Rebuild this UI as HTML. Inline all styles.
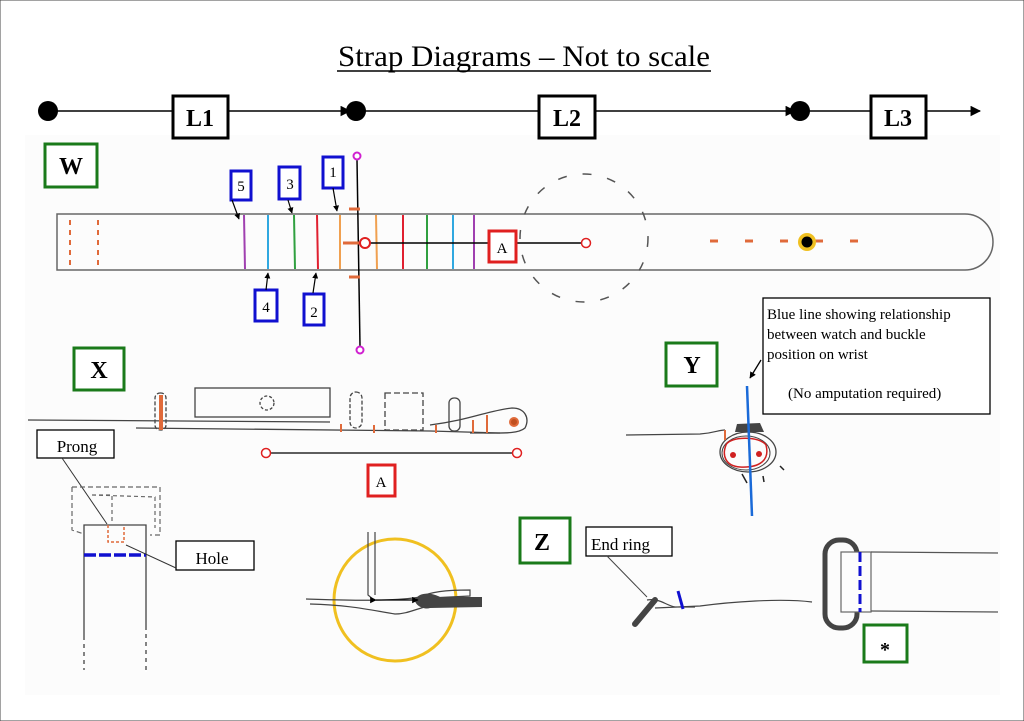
<!DOCTYPE html>
<html><head><meta charset="utf-8"><style>
html,body{margin:0;padding:0;background:#fff}
svg{display:block}
text{font-family:"Liberation Serif",serif}
</style></head><body>
<svg width="1024" height="721" viewBox="0 0 1024 721" xmlns="http://www.w3.org/2000/svg">
<defs>
<marker id="ah" viewBox="0 0 10 10" refX="9" refY="5" markerWidth="7" markerHeight="7" orient="auto"><path d="M0,0 L10,5 L0,10 z" fill="#000"/></marker>
<marker id="ah2" viewBox="0 0 10 10" refX="9" refY="5" markerWidth="5" markerHeight="5" orient="auto"><path d="M0,0 L10,5 L0,10 z" fill="#000"/></marker>
</defs>
<rect x="0" y="0" width="1024" height="721" fill="#fff" stroke="#444" stroke-width="1"/>
<rect x="25" y="135" width="975" height="560" fill="#fcfcfc"/>
<!-- Title -->
<text x="524" y="66" font-size="30" text-anchor="middle" textLength="372" lengthAdjust="spacingAndGlyphs">Strap Diagrams – Not to scale</text>
<line x1="337" y1="71" x2="711" y2="71" stroke="#000" stroke-width="1.5"/>
<!-- timeline -->
<line x1="48" y1="111" x2="350" y2="111" stroke="#000" stroke-width="1.5" marker-end="url(#ah)"/>
<line x1="355" y1="111" x2="795" y2="111" stroke="#000" stroke-width="1.5" marker-end="url(#ah)"/>
<line x1="800" y1="111" x2="980" y2="111" stroke="#000" stroke-width="1.5" marker-end="url(#ah)"/>
<circle cx="48" cy="111" r="10" fill="#000"/>
<circle cx="356" cy="111" r="10" fill="#000"/>
<circle cx="800" cy="111" r="10" fill="#000"/>
<g font-size="24" font-weight="bold" text-anchor="middle">
<rect x="173" y="96" width="55" height="42" fill="#fff" stroke="#000" stroke-width="3"/><text x="200" y="126">L1</text>
<rect x="539" y="96" width="56" height="42" fill="#fff" stroke="#000" stroke-width="3"/><text x="567" y="126">L2</text>
<rect x="871" y="96" width="55" height="42" fill="#fff" stroke="#000" stroke-width="3"/><text x="898" y="126">L3</text>
</g>
<!-- green labels -->
<g font-size="24" font-weight="bold" text-anchor="middle" fill="#000">
<rect x="45" y="144" width="52" height="43" fill="#fff" stroke="#1a7a1a" stroke-width="3"/><text x="71" y="174">W</text>
<rect x="74" y="348" width="50" height="42" fill="#fff" stroke="#1a7a1a" stroke-width="3"/><text x="99" y="378">X</text>
<rect x="666" y="343" width="51" height="43" fill="#fff" stroke="#1a7a1a" stroke-width="3"/><text x="692" y="373">Y</text>
<rect x="520" y="518" width="50" height="45" fill="#fff" stroke="#1a7a1a" stroke-width="3"/><text x="542" y="550">Z</text>
<rect x="864" y="625" width="43" height="37" fill="#fff" stroke="#1a7a1a" stroke-width="3"/><text x="885" y="656" font-size="20">*</text>
</g>
<!-- W strap -->
<path d="M57,214 L965,214 A28,28 0 0 1 965,270 L57,270 Z" fill="none" stroke="#666" stroke-width="1.5"/>
<line x1="70" y1="220" x2="70" y2="268" stroke="#e06a3a" stroke-width="2" stroke-dasharray="5,5"/>
<line x1="98" y1="220" x2="98" y2="268" stroke="#e06a3a" stroke-width="2" stroke-dasharray="5,5"/>
<g stroke-width="2">
<line x1="244" y1="215" x2="245" y2="269" stroke="#a040b0"/>
<line x1="268" y1="215" x2="268" y2="269" stroke="#30a8e0"/>
<line x1="294" y1="215" x2="295" y2="269" stroke="#30a040"/>
<line x1="317" y1="215" x2="318" y2="269" stroke="#e02030"/>
<line x1="340" y1="215" x2="340" y2="269" stroke="#f0a050"/>
<line x1="376" y1="215" x2="377" y2="269" stroke="#f0a050"/>
<line x1="403" y1="215" x2="403" y2="269" stroke="#e02030"/>
<line x1="427" y1="215" x2="427" y2="269" stroke="#30a040"/>
<line x1="453" y1="215" x2="453" y2="269" stroke="#30a8e0"/>
<line x1="474" y1="215" x2="474" y2="269" stroke="#a040b0"/>
</g>
<line x1="357" y1="160" x2="360" y2="346" stroke="#000" stroke-width="1.5"/>
<circle cx="357" cy="156" r="3.5" fill="#fff" stroke="#d020d0" stroke-width="2"/>
<circle cx="360" cy="350" r="3.5" fill="#fff" stroke="#d020d0" stroke-width="2"/>
<line x1="349" y1="209" x2="360" y2="209" stroke="#e06a3a" stroke-width="3"/>
<line x1="349" y1="277" x2="360" y2="277" stroke="#e06a3a" stroke-width="3"/>
<line x1="343" y1="243" x2="360" y2="243" stroke="#e06a3a" stroke-width="3"/>
<line x1="370" y1="243" x2="585" y2="243" stroke="#000" stroke-width="1.5"/>
<circle cx="365" cy="243" r="5" fill="#fff" stroke="#e02020" stroke-width="2"/>
<circle cx="586" cy="243" r="4.5" fill="#fff" stroke="#e02020" stroke-width="1.5"/>
<rect x="489" y="231" width="27" height="31" fill="#fff" stroke="#e02020" stroke-width="3"/>
<text x="502" y="253" font-size="15" text-anchor="middle">A</text>
<circle cx="584" cy="238" r="64" fill="none" stroke="#555" stroke-width="1.5" stroke-dasharray="9,16"/>
<line x1="710" y1="241" x2="885" y2="241" stroke="#e06a3a" stroke-width="3" stroke-dasharray="8,27"/>
<circle cx="807" cy="242" r="9" fill="#f0c020"/>
<circle cx="807" cy="242" r="5.5" fill="#000"/>
<!-- blue number boxes -->
<g font-size="15" text-anchor="middle" stroke-width="3">
<rect x="231" y="171" width="20" height="29" fill="#fff" stroke="#1010d0"/><text x="241" y="191">5</text>
<rect x="279" y="167" width="21" height="32" fill="#fff" stroke="#1010d0"/><text x="290" y="189">3</text>
<rect x="323" y="157" width="20" height="31" fill="#fff" stroke="#1010d0"/><text x="333" y="177">1</text>
<rect x="255" y="290" width="22" height="31" fill="#fff" stroke="#1010d0"/><text x="266" y="312">4</text>
<rect x="304" y="294" width="20" height="31" fill="#fff" stroke="#1010d0"/><text x="314" y="317">2</text>
</g>
<g stroke="#000" stroke-width="1.2">
<line x1="232" y1="200" x2="239" y2="219" marker-end="url(#ah2)"/>
<line x1="288" y1="200" x2="292" y2="213" marker-end="url(#ah2)"/>
<line x1="333" y1="188" x2="337" y2="211" marker-end="url(#ah2)"/>
<line x1="266" y1="290" x2="268" y2="273" marker-end="url(#ah2)"/>
<line x1="313" y1="293" x2="316" y2="273" marker-end="url(#ah2)"/>
</g>
<!-- X strap -->
<g fill="none" stroke="#444" stroke-width="1.3">
<line x1="28" y1="420" x2="330" y2="422"/>
<path d="M136,428 L430,431 L500,433"/>
<path d="M430,425 C470,420 490,410 512,408 C525,408 530,418 525,428 C518,434 505,433 470,433"/>
<rect x="195" y="388" width="135" height="29"/>
<rect x="350" y="392" width="12" height="36" rx="6" stroke-dasharray="4,2"/>
<rect x="385" y="393" width="38" height="37" stroke-dasharray="6,3"/>
<rect x="449" y="398" width="11" height="33" rx="5"/>
<rect x="155" y="393" width="11" height="37" rx="5" stroke-dasharray="4,2"/>
<circle cx="267" cy="403" r="7" stroke-dasharray="3,2"/>
</g>
<line x1="161" y1="395" x2="161" y2="430" stroke="#e06a3a" stroke-width="4"/>
<g stroke="#e06a3a" stroke-width="2">
<line x1="341" y1="424" x2="341" y2="432"/><line x1="374" y1="425" x2="374" y2="433"/>
<line x1="436" y1="425" x2="436" y2="433"/><line x1="473" y1="420" x2="473" y2="433"/><line x1="487" y1="415" x2="487" y2="433"/>
</g>
<circle cx="514" cy="422" r="4" fill="#c05020" stroke="#e06a3a" stroke-width="2"/>
<line x1="270" y1="453" x2="513" y2="453" stroke="#000" stroke-width="1.2"/>
<circle cx="266" cy="453" r="4.5" fill="#fff" stroke="#e02020" stroke-width="1.5"/>
<circle cx="517" cy="453" r="4.5" fill="#fff" stroke="#e02020" stroke-width="1.5"/>
<rect x="368" y="465" width="27" height="31" fill="#fff" stroke="#e02020" stroke-width="3"/>
<text x="381" y="487" font-size="15" text-anchor="middle">A</text>
<!-- buckle/prong -->
<rect x="37" y="430" width="77" height="28" fill="#fff" stroke="#000" stroke-width="1.3"/>
<text x="77" y="452" font-size="17" text-anchor="middle">Prong</text>
<line x1="62" y1="458" x2="107" y2="524" stroke="#333" stroke-width="1"/>
<path d="M72,487 L160,487 L160,535 L150,535 M72,487 L72,530 L84,534" fill="none" stroke="#666" stroke-width="1.2" stroke-dasharray="5,3"/>
<path d="M92,495 L155,497 L155,528 M92,495 L112,495 L112,522" fill="none" stroke="#666" stroke-width="1.2" stroke-dasharray="4,3"/>
<path d="M84,670 L84,525 L146,525 L146,670" fill="none" stroke="#444" stroke-width="1.3"/>
<line x1="84" y1="640" x2="84" y2="672" stroke="#fff" stroke-width="2" stroke-dasharray="4,4"/>
<line x1="146" y1="630" x2="146" y2="672" stroke="#fff" stroke-width="2" stroke-dasharray="4,4"/>
<path d="M108,525 L108,542 L124,542 L124,525" fill="none" stroke="#e06a3a" stroke-width="1.5" stroke-dasharray="3,2"/>
<line x1="84" y1="555" x2="146" y2="555" stroke="#1010d0" stroke-width="3.5" stroke-dasharray="12,3"/>
<rect x="176" y="541" width="78" height="29" fill="#fff" stroke="#000" stroke-width="1.3"/>
<text x="212" y="564" font-size="17" text-anchor="middle">Hole</text>
<line x1="176" y1="568" x2="126" y2="545" stroke="#333" stroke-width="1"/>
<!-- yellow circle -->
<circle cx="395" cy="600" r="61" fill="none" stroke="#f0c020" stroke-width="3"/>
<path d="M368,532 L368,595 L374,600 M375,532 L375,595" fill="none" stroke="#444" stroke-width="1.2"/>
<path d="M306,599 C340,600 390,602 420,597 C430,592 445,590 470,590 L470,596 L430,598" fill="none" stroke="#444" stroke-width="1.2"/>
<path d="M310,604 C350,605 370,610 395,614 C410,614 420,606 440,604" fill="none" stroke="#444" stroke-width="1.2"/>
<path d="M415,600 C420,590 435,594 440,597 L482,597 L482,607 L430,608 C425,610 415,606 415,600 Z" fill="#444"/>
<line x1="376" y1="600" x2="418" y2="600" stroke="#000" stroke-width="1.3" marker-end="url(#ah2)" marker-start="url(#ah2)"/>
<!-- Y -->
<rect x="763" y="298" width="227" height="116" fill="#fff" stroke="#000" stroke-width="1.3"/>
<g font-size="15">
<text x="767" y="319">Blue line showing relationship</text>
<text x="767" y="339">between watch and buckle</text>
<text x="767" y="359">position on wrist</text>
<text x="788" y="398">(No amputation required)</text>
</g>
<line x1="761" y1="360" x2="750" y2="378" stroke="#000" stroke-width="1.3" marker-end="url(#ah2)"/>
<path d="M626,435 L700,434 C715,433 718,430 725,430" fill="none" stroke="#444" stroke-width="1.2"/>
<path d="M735,432 L737,424 L760,423 L764,432 Z" fill="#444"/>
<ellipse cx="748" cy="452" rx="28" ry="20" fill="none" stroke="#444" stroke-width="1.3"/>
<ellipse cx="746" cy="453" rx="24" ry="17" fill="none" stroke="#444" stroke-width="1"/>
<path d="M726,445 C730,436 760,436 766,445 C770,460 760,468 740,467 C725,466 722,455 726,445 Z" fill="none" stroke="#d02020" stroke-width="1.5"/>
<circle cx="733" cy="455" r="3" fill="#d02020"/><circle cx="759" cy="454" r="3" fill="#d02020"/>
<line x1="747" y1="386" x2="752" y2="516" stroke="#1a6ad8" stroke-width="2.5"/>
<line x1="725" y1="430" x2="725" y2="440" stroke="#e06a3a" stroke-width="2"/>
<g stroke="#222" stroke-width="1.5"><line x1="742" y1="474" x2="747" y2="483"/><line x1="763" y1="476" x2="764" y2="482"/><line x1="780" y1="466" x2="784" y2="470"/></g>
<!-- Z -->
<rect x="586" y="527" width="86" height="29" fill="#fff" stroke="#000" stroke-width="1.3"/>
<text x="591" y="550" font-size="17">End ring</text>
<line x1="607" y1="556" x2="647" y2="597" stroke="#444" stroke-width="1"/>
<path d="M647,600 C660,598 665,605 675,607 L695,607 M655,608 L700,606 C730,602 780,598 812,602" fill="none" stroke="#444" stroke-width="1.2"/>
<line x1="655" y1="600" x2="635" y2="624" stroke="#444" stroke-width="6" stroke-linecap="round"/>
<line x1="678" y1="591" x2="683" y2="609" stroke="#1010d0" stroke-width="3"/>
<rect x="825" y="540" width="32" height="88" rx="14" fill="none" stroke="#444" stroke-width="5"/>
<rect x="841" y="552" width="30" height="60" fill="#fcfcfc" stroke="#666" stroke-width="1.2"/>
<line x1="860" y1="552" x2="860" y2="612" stroke="#1010d0" stroke-width="3" stroke-dasharray="10,4"/>
<line x1="871" y1="552" x2="998" y2="553" stroke="#555" stroke-width="1.2"/>
<line x1="871" y1="611" x2="998" y2="612" stroke="#555" stroke-width="1.2"/>
</svg>
</body></html>
